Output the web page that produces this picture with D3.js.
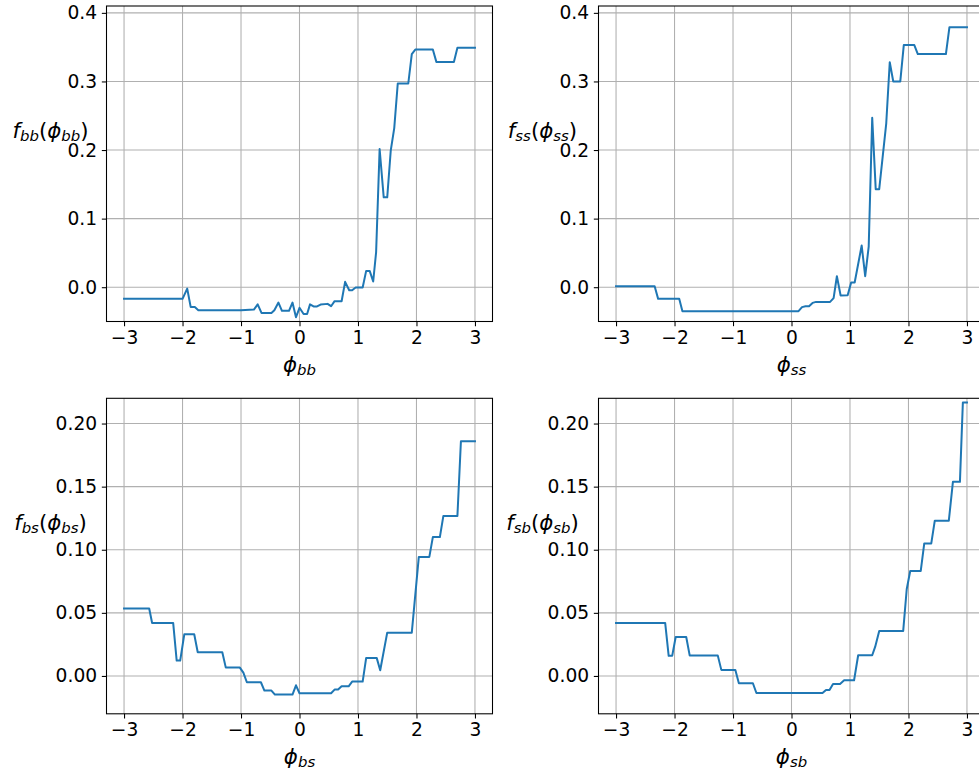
<!DOCTYPE html>
<html>
<head>
<meta charset="utf-8">
<script src="https://cdn.jsdelivr.net/npm/d3@7"></script>
<style>
  html, body { margin: 0; padding: 0; background: #fff; }
  svg { display: block; }
  text { font-family: "DejaVu Sans", sans-serif; }
</style>
</head>
<body>
<div id="chart"></div>
<script>
// Shape functions f(phi) for the four interaction terms
const phiBB = [-3, -2.0, -1.92, -1.86, -1.79, -1.73, -1.0, -0.78, -0.715, -0.65, -0.48, -0.43, -0.36, -0.30, -0.18, -0.12, -0.06, 0.0, 0.07, 0.13, 0.18, 0.24, 0.30, 0.36, 0.48, 0.54, 0.60, 0.72, 0.78, 0.85, 0.90, 0.96, 1.08, 1.14, 1.20, 1.26, 1.31, 1.37, 1.44, 1.50, 1.56, 1.62, 1.68, 1.86, 1.92, 1.98, 2.28, 2.34, 2.64, 2.70, 3.0];
const fBB   = [-0.017, -0.017, -0.002, -0.029, -0.029, -0.0336, -0.0336, -0.0326, -0.025, -0.0375, -0.0375, -0.0335, -0.0224, -0.0345, -0.0345, -0.0224, -0.0438, -0.030, -0.039, -0.039, -0.025, -0.028, -0.028, -0.0253, -0.0243, -0.0277, -0.0204, -0.0204, 0.0078, -0.0044, -0.0044, -0.0005, -0.0005, 0.0238, 0.0238, 0.0083, 0.0511, 0.2015, 0.131, 0.131, 0.199, 0.232, 0.297, 0.297, 0.340, 0.3465, 0.3465, 0.3285, 0.3285, 0.349, 0.349];

const phiSS = [-3, -2.34, -2.28, -1.92, -1.865, 0.12, 0.18, 0.24, 0.30, 0.36, 0.42, 0.66, 0.72, 0.776, 0.84, 0.96, 1.02, 1.08, 1.20, 1.26, 1.32, 1.38, 1.44, 1.50, 1.62, 1.68, 1.74, 1.86, 1.92, 2.10, 2.16, 2.64, 2.70, 3.0];
const fSS   = [0.0015, 0.0015, -0.017, -0.017, -0.035, -0.035, -0.029, -0.0277, -0.0277, -0.0229, -0.0214, -0.0214, -0.016, 0.016, -0.012, -0.0117, 0.0068, 0.0068, 0.0608, 0.016, 0.059, 0.247, 0.143, 0.143, 0.239, 0.328, 0.300, 0.300, 0.353, 0.353, 0.340, 0.340, 0.379, 0.379];

const phiBS = [-3, -2.57, -2.52, -2.16, -2.10, -2.04, -1.97, -1.80, -1.74, -1.32, -1.26, -1.02, -0.96, -0.90, -0.66, -0.60, -0.48, -0.42, -0.12, -0.06, 0.0, 0.54, 0.60, 0.66, 0.72, 0.84, 0.90, 1.08, 1.14, 1.32, 1.38, 1.50, 1.92, 2.04, 2.22, 2.28, 2.40, 2.46, 2.70, 2.76, 3.0];
const fBS   = [0.0534, 0.0534, 0.042, 0.042, 0.0122, 0.0122, 0.033, 0.033, 0.0188, 0.0188, 0.0066, 0.0066, 0.0026, -0.005, -0.005, -0.0116, -0.0116, -0.0148, -0.0148, -0.0074, -0.0137, -0.0137, -0.0108, -0.0108, -0.0082, -0.0082, -0.0045, -0.0045, 0.0143, 0.0143, 0.0045, 0.0343, 0.0343, 0.0943, 0.0943, 0.110, 0.110, 0.1268, 0.1268, 0.186, 0.186];

const phiSB = [-3, -2.16, -2.10, -2.04, -1.98, -1.80, -1.74, -1.26, -1.20, -0.96, -0.90, -0.66, -0.60, 0.53, 0.59, 0.65, 0.71, 0.83, 0.90, 1.07, 1.14, 1.38, 1.43, 1.50, 1.91, 1.97, 2.03, 2.21, 2.27, 2.39, 2.45, 2.69, 2.76, 2.88, 2.93, 3.0];
const fSB   = [0.042, 0.042, 0.0159, 0.0159, 0.0309, 0.0309, 0.0161, 0.0161, 0.0048, 0.0048, -0.0058, -0.0058, -0.0135, -0.0135, -0.0111, -0.0111, -0.0063, -0.0063, -0.0034, -0.0034, 0.0164, 0.0164, 0.023, 0.0357, 0.0357, 0.0687, 0.0832, 0.0832, 0.105, 0.105, 0.123, 0.123, 0.1538, 0.1538, 0.2166, 0.2166];

// Tick values
const xTicks = [-3, -2, -1, 0, 1, 2, 3];
const yTicksTop = [0.0, 0.1, 0.2, 0.3, 0.4];
const yTicksBottom = [0.00, 0.05, 0.10, 0.15, 0.20];

// Subscript names for each panel
const panelNames = ["bb", "ss", "bs", "sb"];

const W = 979, H = 774;
const colLeft = [106.5, 598.5];
const rowTop = [6, 398.3];
const axW = 386, axH = 315.5;

const panels = [
  { xs: phiBB, ys: fBB, name: panelNames[0], col: 0, row: 0, ylim: [-0.05, 0.41], yTicks: yTicksTop, fmt: d3.format(".1f") },
  { xs: phiSS, ys: fSS, name: panelNames[1], col: 1, row: 0, ylim: [-0.05, 0.41], yTicks: yTicksTop, fmt: d3.format(".1f") },
  { xs: phiBS, ys: fBS, name: panelNames[2], col: 0, row: 1, ylim: [-0.03, 0.22], yTicks: yTicksBottom, fmt: d3.format(".2f") },
  { xs: phiSB, ys: fSB, name: panelNames[3], col: 1, row: 1, ylim: [-0.03, 0.22], yTicks: yTicksBottom, fmt: d3.format(".2f") }
];

const minus = s => s.replace("-", "\u2212");
const FS = 18.67;      // tick labels
const LFS = 21.33;     // axis labels

const svg = d3.select("#chart").append("svg")
  .attr("width", W).attr("height", H)
  .attr("viewBox", `0 0 ${W} ${H}`);

// italic math label like  f_{nm}(phi_{nm})  or  phi_{nm}
function mathLabel(sel, name, withF) {
  const sub = (t) => sel.append("tspan")
    .attr("font-style", "italic").attr("font-size", LFS * 0.7)
    .attr("dy", LFS * 0.16).text(t);
  const up = (t, italic) => sel.append("tspan")
    .attr("font-style", italic ? "italic" : "normal").attr("font-size", LFS)
    .attr("dy", -LFS * 0.16).text(t);
  if (withF) {
    sel.append("tspan").attr("font-style", "italic").attr("font-size", LFS).text("f");
    sub(name);
    up("(", false);
    sel.append("tspan").attr("font-style", "italic").attr("font-size", LFS).text("\u03D5");
    sub(name);
    up(")", false);
  } else {
    sel.append("tspan").attr("font-style", "italic").attr("font-size", LFS).text("\u03D5");
    sub(name);
  }
}

panels.forEach(p => {
  const x0 = colLeft[p.col], y0 = rowTop[p.row];
  const x = d3.scaleLinear().domain([-3.3, 3.3]).range([x0, x0 + axW]);
  const y = d3.scaleLinear().domain(p.ylim).range([y0 + axH, y0]);
  const g = svg.append("g");

  // grid
  g.append("g").selectAll("line").data(xTicks).join("line")
    .attr("x1", d => x(d)).attr("x2", d => x(d))
    .attr("y1", y0).attr("y2", y0 + axH)
    .attr("stroke", "#b0b0b0").attr("stroke-width", 1.07);
  g.append("g").selectAll("line").data(p.yTicks).join("line")
    .attr("x1", x0).attr("x2", x0 + axW)
    .attr("y1", d => y(d)).attr("y2", d => y(d))
    .attr("stroke", "#b0b0b0").attr("stroke-width", 1.07);

  // curve
  const line = d3.line().x((d, i) => x(p.xs[i])).y(d => y(d));
  g.append("path").datum(p.ys)
    .attr("d", line)
    .attr("fill", "none")
    .attr("stroke", "#1f77b4")
    .attr("stroke-width", 2)
    .attr("stroke-linejoin", "round")
    .attr("stroke-linecap", "square");

  // axes
  const xAxis = d3.axisBottom(x).tickValues(xTicks).tickSize(4.67).tickPadding(4.7)
    .tickFormat(d => minus(d3.format("d")(d)));
  const yAxis = d3.axisLeft(y).tickValues(p.yTicks).tickSize(4.67).tickPadding(4.7)
    .tickFormat(d => minus(p.fmt(d)));

  const gx = g.append("g").attr("transform", `translate(0,${y0 + axH})`).call(xAxis);
  const gy = g.append("g").attr("transform", `translate(${x0},0)`).call(yAxis);
  [gx, gy].forEach(a => {
    a.select(".domain").remove();
    a.selectAll(".tick line").attr("stroke", "#000").attr("stroke-width", 1.07);
    a.selectAll(".tick text").attr("fill", "#000").attr("font-size", FS)
      .attr("font-family", "DejaVu Sans");
  });

  // spines
  g.append("rect")
    .attr("x", x0).attr("y", y0).attr("width", axW).attr("height", axH)
    .attr("fill", "none").attr("stroke", "#000").attr("stroke-width", 1.07);

  // axis labels
  const xl = g.append("text")
    .attr("x", x0 + axW / 2).attr("y", y0 + axH + 50)
    .attr("text-anchor", "middle").attr("fill", "#000");
  mathLabel(xl, p.name, false);

  const yl = g.append("text")
    .attr("x", x0 - 56).attr("y", y0 + axH / 2 - 26)
    .attr("text-anchor", "middle").attr("fill", "#000");
  mathLabel(yl, p.name, true);
});
</script>
</body>
</html>
